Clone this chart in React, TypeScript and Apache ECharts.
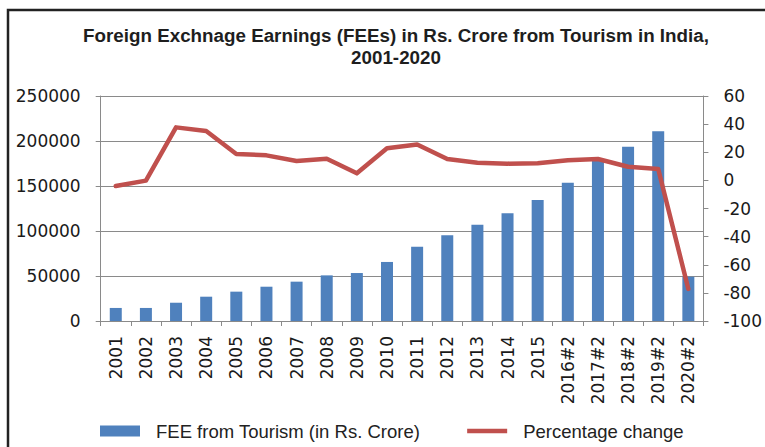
import React, { useEffect, useRef } from "react";
import * as echarts from "echarts";

const years = ["2001", "2002", "2003", "2004", "2005", "2006", "2007", "2008", "2009", "2010", "2011", "2012", "2013", "2014", "2015", "2016#2", "2017#2", "2018#2", "2019#2", "2020#2"];
const feeValues = [14500, 14500, 20300, 27000, 32600, 38100, 43700, 50700, 53300, 65600, 82600, 95200, 107000, 119600, 134400, 153700, 178900, 193700, 210700, 49200];
const pctChange = [-4, -0.2, 37.7, 35.1, 18.8, 17.8, 13.8, 15.4, 5, 22.8, 25.5, 15.2, 12.6, 11.9, 12.1, 14.3, 15.2, 9.7, 8.1, -77.2];
const titleText = "Foreign Exchnage Earnings (FEEs) in Rs. Crore from Tourism in India,\n2001-2020";
const barName = "FEE from Tourism (in Rs. Crore)";
const lineName = "Percentage change";

export default function App() {
  const ref = useRef<HTMLDivElement>(null);
  useEffect(() => {
    if (!ref.current) return;
    const chart = echarts.init(ref.current, null, { renderer: "svg" });
    const axisGrey = "#8a8a8a";
    const labelFont = "DejaVu Sans";
    chart.setOption({
      animation: false,
      backgroundColor: "#ffffff",
      title: {
        text: titleText,
        left: 391,
        top: 19,
        textAlign: "center",
        textStyle: {
          fontFamily: "Liberation Sans",
          fontWeight: "bold",
          fontSize: 18.8,
          lineHeight: 22,
          color: "#1e1e1e",
        },
      },
      graphic: [
        {
          type: "rect",
          shape: { x: 8, y: 10, width: 820, height: 520 },
          style: { fill: "none", stroke: "#222", lineWidth: 2.5 },
          silent: true,
          z: 100,
        },
      ],
      legend: {
        left: 100,
        top: 420,
        padding: 0,
        itemGap: 47,
        itemWidth: 40,
        itemHeight: 11,
        symbolKeepAspect: true,
        textStyle: {
          fontFamily: "Liberation Sans",
          fontSize: 18.5,
          lineHeight: 22,
          color: "#222",
          padding: [0, 0, 0, 11],
        },
        data: [
          { name: barName, icon: "rect" },
          {
            name: lineName,
            icon: "path://M0,0 L40,0 L40,4.5 L0,4.5 Z",
            itemStyle: { color: "#C0504D" },
          },
        ],
      },
      grid: { left: 100.7, right: 60, top: 96, bottom: 126, containLabel: false },
      xAxis: {
        type: "category",
        data: years,
        axisLine: { show: true, lineStyle: { color: axisGrey, width: 1 } },
        axisTick: { show: true, length: 5, lineStyle: { color: axisGrey } },
        axisLabel: {
          rotate: 90,
          margin: 15,
          fontFamily: labelFont,
          fontSize: 17,
          color: "#1a1a1a",
          interval: 0,
        },
      },
      yAxis: [
        {
          type: "value",
          min: 0,
          max: 250000,
          interval: 50000,
          axisLine: { show: true, lineStyle: { color: axisGrey } },
          axisTick: { show: true, length: 5, lineStyle: { color: axisGrey } },
          splitLine: { show: true, lineStyle: { color: axisGrey, width: 1 } },
          axisLabel: {
            margin: 20,
            fontFamily: labelFont,
            fontSize: 17,
            color: "#1a1a1a",
            formatter: (v: number) => String(v),
          },
        },
        {
          type: "value",
          min: -100,
          max: 60,
          interval: 20,
          position: "right",
          axisLine: { show: true, lineStyle: { color: axisGrey } },
          axisTick: { show: true, length: 5, lineStyle: { color: axisGrey } },
          splitLine: { show: false },
          axisLabel: {
            margin: 20,
            fontFamily: labelFont,
            fontSize: 17,
            color: "#1a1a1a",
            formatter: (v: number) => String(v),
          },
        },
      ],
      series: [
        {
          name: barName,
          type: "bar",
          data: feeValues,
          barWidth: 12,
          itemStyle: { color: "#4F81BD" },
          yAxisIndex: 0,
        },
        {
          name: lineName,
          type: "line",
          data: pctChange,
          yAxisIndex: 1,
          symbol: "none",
          showSymbol: false,
          lineStyle: { color: "#C0504D", width: 4.5, cap: "round", join: "round" },
          itemStyle: { color: "#C0504D" },
          z: 5,
        },
      ],
    });
    return () => chart.dispose();
  }, []);
  return (
    <div
      ref={ref}
      style={{ position: "fixed", left: 0, top: 0, width: 765, height: 447, background: "#fff" }}
    />
  );
}
